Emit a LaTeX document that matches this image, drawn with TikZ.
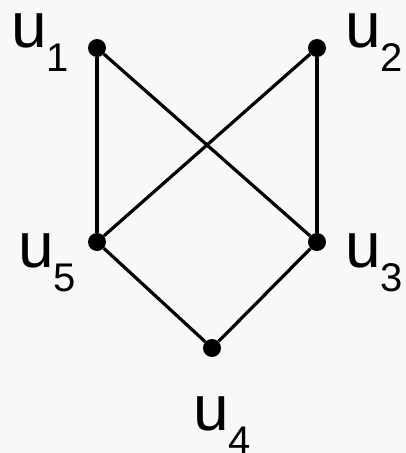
\documentclass[tikz,border=0pt]{standalone}
\usepackage{fontspec}
\setmainfont{Liberation Sans}
\usetikzlibrary{positioning}
\definecolor{bgpaper}{RGB}{248,248,248}
\tikzset{
  vtx/.style   ={circle, fill=black, inner sep=0pt, minimum size=18pt},
  vlbl/.style  ={inner sep=0pt, anchor=base west, font=\fontsize{64}{64}\selectfont},
  edg/.style   ={line width=3.2pt, black},
}
\newcommand{\ulab}[1]{u\raisebox{-24pt}{\fontsize{40}{40}\selectfont #1}}

\begin{document}
\begin{tikzpicture}[x=1pt, y=-1pt]
  \fill[bgpaper] (0,0) rectangle (406,453);
  \useasboundingbox (0,0) rectangle (406,453);

  \node[vtx] (u1) at (97,48) {};
  \node[vtx] (u2) at (317,48) {};
  \node[vtx] (u5) at (97,242) {};
  \node[vtx] (u3) at (317,242) {};
  \node[vtx] (u4) at (212,348) {};

  \draw[edg] (u1) -- (u5);
  \draw[edg] (u1) -- (u3);
  \draw[edg] (u2) -- (u5);
  \draw[edg] (u2) -- (u3);
  \draw[edg] (u5) -- (u4);
  \draw[edg] (u3) -- (u4);

  \node[vlbl] (l1) at (11,47) {\ulab{1}};
  \node[vlbl] (l2) at (345,47) {\ulab{2}};
  \node[vlbl] (l5) at (18,267) {\ulab{5}};
  \node[vlbl] (l3) at (345,267) {\ulab{3}};
  \node[vlbl] (l4) at (193,430) {\ulab{4}};
\end{tikzpicture}
\end{document}
